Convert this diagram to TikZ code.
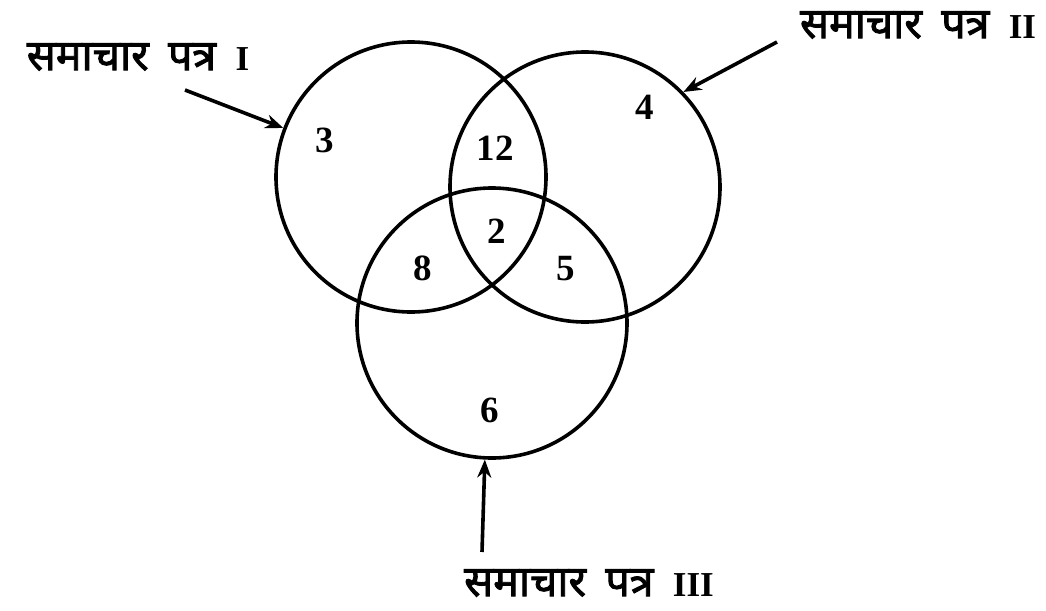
\documentclass[tikz,border=0pt]{standalone}
\usepackage{fontspec}
\setmainfont{Liberation Serif}
\newfontfamily\dev[Script=Devanagari,FakeBold=2]{Noto Sans}
\usetikzlibrary{arrows.meta}
\newcommand{\paperlabel}[1]{{\dev समाचार\hspace{0.45em}पत्र}\hspace{0.45em}{\fontsize{35}{35}\selectfont\bfseries #1}}
\begin{document}
\begin{tikzpicture}[x=1pt,y=-1pt,
  set/.style={circle,draw,line width=3.6pt,minimum size=270pt,inner sep=0pt},
  num/.style={font=\fontsize{37}{37}\selectfont\bfseries},
  lab/.style={font=\fontsize{43}{43}\selectfont,inner sep=0pt},
  pointer/.style={line width=3.6pt,-{Stealth[length=18pt,width=14pt]}}]
\useasboundingbox (0,0) rectangle (1046,610);
\node[set] (c1) at (411,177) {};
\node[set] (c2) at (585,187) {};
\node[set] (c3) at (492,323) {};
\node[num] (n3) at (325,140) {3};
\node[num] (n12) at (495,148) {12};
\node[num] (n4) at (645,107) {4};
\node[num] (n2) at (497,231) {2};
\node[num] (n8) at (423,268) {8};
\node[num] (n5) at (566,269) {5};
\node[num] (n6) at (490,410) {6};
\node[lab] (l1) at (138,57) {\paperlabel{I}};
\node[lab] (l2) at (918,25) {\paperlabel{II}};
\node[lab] (l3) at (589,583) {\paperlabel{III}};
\coordinate (a1) at (185,90);
\coordinate (a2) at (777,42);
\coordinate (a3) at (482,552);
\draw[pointer] (a1) -- (c1.159);
\draw[pointer] (a2) -- (c2.44);
\draw[pointer] (a3) -- (c3.267);
\end{tikzpicture}
\end{document}
